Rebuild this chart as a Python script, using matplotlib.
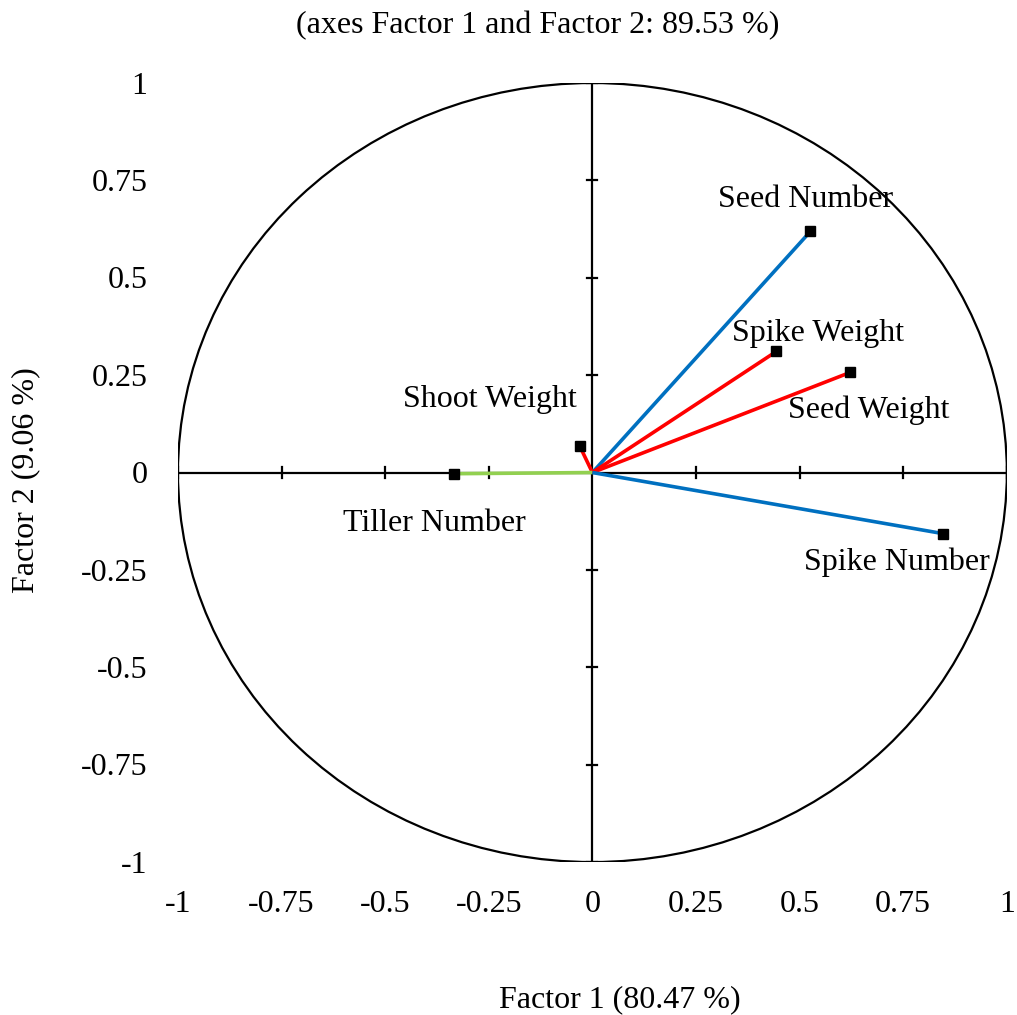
import matplotlib.pyplot as plt
from matplotlib.patches import Circle
from matplotlib.transforms import blended_transform_factory

# variable loadings on the two factors
variables = ['Seed Number', 'Spike Weight', 'Seed Weight', 'Shoot Weight', 'Tiller Number', 'Spike Number']
factor1 = [0.526, 0.444, 0.622, -0.031, -0.333, 0.847]
factor2 = [0.619, 0.311, 0.257, 0.069, -0.003, -0.157]
colors = ['#0070C0', '#FF0000', '#FF0000', '#FF0000', '#92D050', '#0070C0']

tick_vals = [-1, -0.75, -0.5, -0.25, 0, 0.25, 0.5, 0.75, 1]
tick_labels = ['-1', '-0.75', '-0.5', '-0.25', '0', '0.25', '0.5', '0.75', '1']

# where the names are written (data coords)
label_pos = {
    'Seed Number': (0.514, 0.701),
    'Spike Weight': (0.545, 0.357),
    'Seed Weight': (0.668, 0.159),
    'Shoot Weight': (-0.248, 0.187),
    'Tiller Number': (-0.381, -0.131),
    'Spike Number': (0.734, -0.231),
}

plt.rcParams['font.family'] = 'Liberation Serif'
fs = 23

fig = plt.figure(figsize=(10.17, 10.15), dpi=100)
ax = fig.add_axes([0.175, 0.1507, 0.815, 0.7675])
ax.set_xlim(-1, 1)
ax.set_ylim(-1, 1)
for s in ax.spines.values():
    s.set_visible(False)
ax.set_xticks([])
ax.set_yticks([])

# axes through the origin
ax.axhline(0, color='black', lw=1.6, zorder=1)
ax.axvline(0, color='black', lw=1.6, zorder=1)

# correlation circle
ax.add_patch(Circle((0, 0), 1, fill=False, edgecolor='black', lw=1.6, zorder=1))

# tick marks crossing the axes
for t in tick_vals:
    if t == 0:
        continue
    ax.plot([t, t], [-0.013, 0.013], color='black', lw=1.6, zorder=1)
    ax.plot([-0.012, 0.012], [t, t], color='black', lw=1.6, zorder=1)

# tick labels at the frame edges
tx = blended_transform_factory(ax.transData, ax.transAxes)
ty = blended_transform_factory(ax.transAxes, ax.transData)
for t, lab in zip(tick_vals, tick_labels):
    ax.text(t, -0.054, lab, transform=tx, ha='center', va='center', fontsize=fs, clip_on=False)
    ax.text(-0.037, t - 0.008, lab, transform=ty, ha='right', va='center', fontsize=fs, clip_on=False)

# vectors
for name, x, y, c in zip(variables, factor1, factor2, colors):
    ax.plot([0, x], [0, y], color=c, lw=2.6, zorder=2, solid_capstyle='butt')
    ax.plot(x, y, 's', color='black', markersize=7.5, zorder=3)
    lx, ly = label_pos[name]
    ax.text(lx, ly, name, ha='center', va='center', fontsize=fs, zorder=4)

fig.text(0.529, 0.975, '(axes Factor 1 and Factor 2: 89.53 %)', ha='center', va='center', fontsize=fs)
fig.text(0.609, 0.015, 'Factor 1 (80.47 %)', ha='center', va='center', fontsize=fs)
fig.text(0.025, 0.527, 'Factor 2 (9.06 %)', ha='center', va='center', rotation=90, fontsize=fs)

fig.savefig('out.png', dpi=100)
